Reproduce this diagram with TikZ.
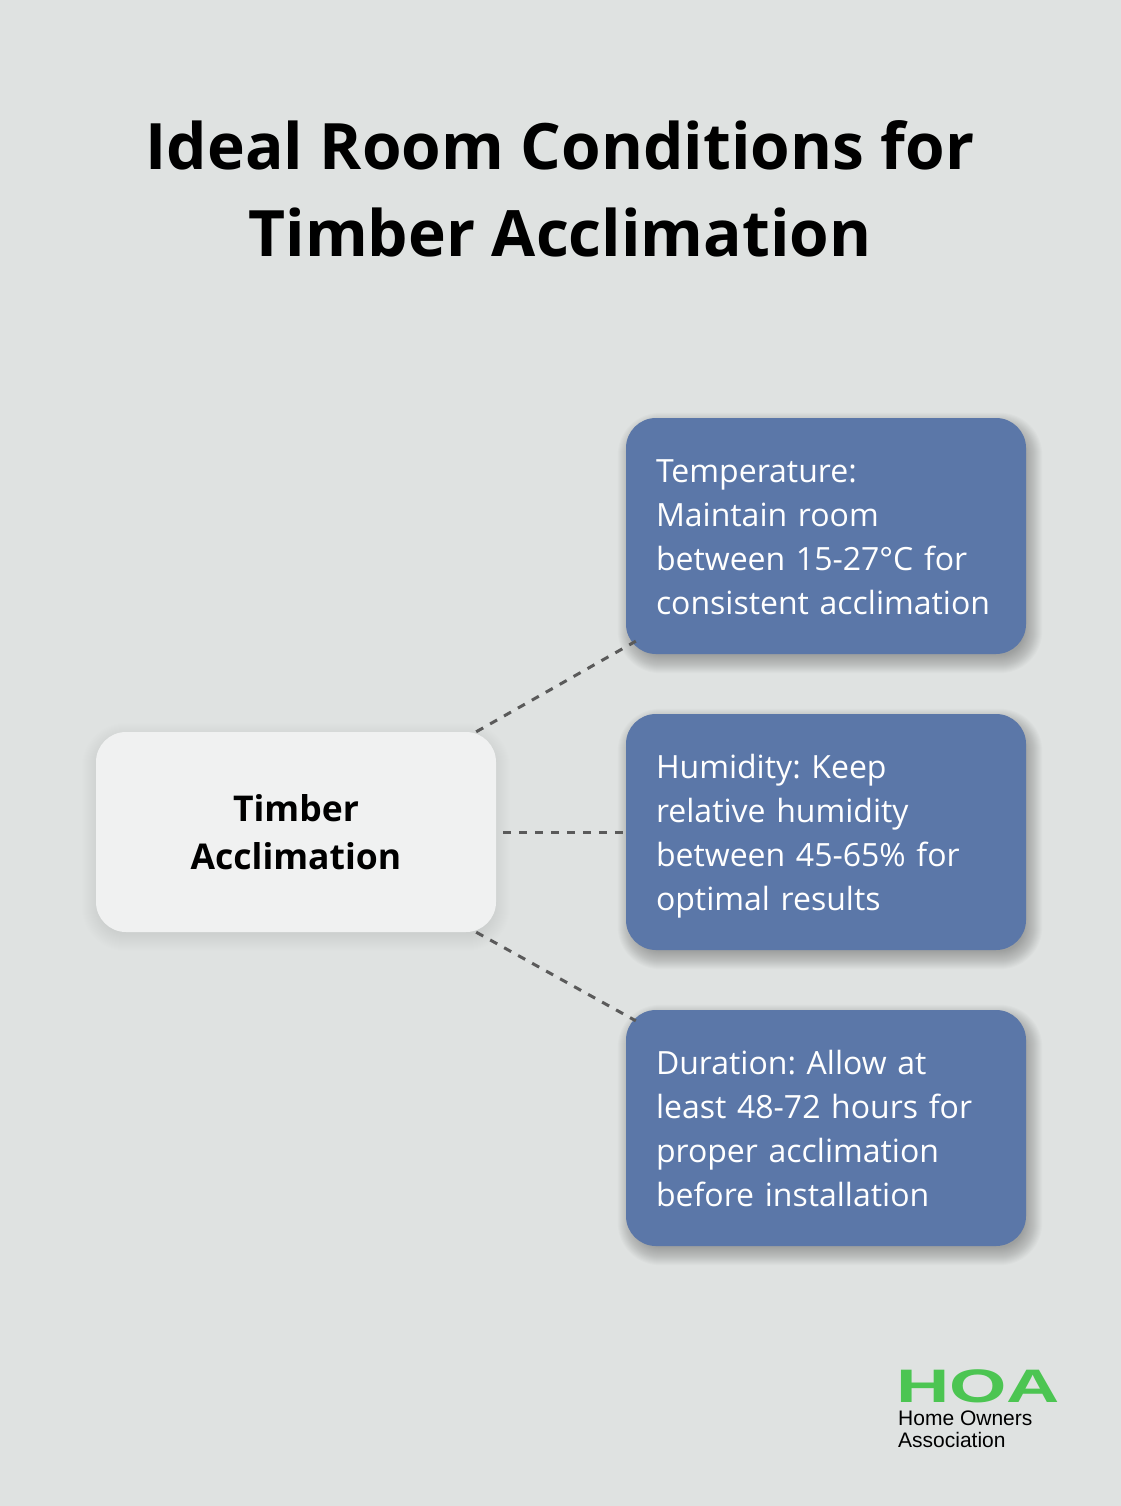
\documentclass[tikz,border=0pt]{standalone}
\usepackage{fontspec}
\setmainfont{Open Sans}
\newfontfamily\logofont{Liberation Sans}
\usetikzlibrary{calc,backgrounds}
\definecolor{bgc}{HTML}{DFE2E1}
\definecolor{bluebox}{HTML}{5B77A8}
\definecolor{lightbox}{HTML}{F0F1F1}
\definecolor{dashc}{HTML}{5A5A5A}
\definecolor{hoagreen}{HTML}{4CC552}
\newcommand{\topstr}{\rule{0pt}{33pt}}
\newcommand{\botstr}{\rule[-8pt]{0pt}{8pt}}
% soft shadow: #1 node, #2 dx, #3 dy (down positive), #4 from k, #5 to k, #6 opacity per layer
\newcommand{\softshadow}[6]{%
  \foreach \k in {#4,...,#5}{%
    \fill[black, opacity=#6, rounded corners={30pt+\k pt}]
      ($(#1.south west)+(#2-\k,#3+\k)$) rectangle ($(#1.north east)+(#2+\k,#3-\k)$);
  }%
}
\tikzset{
  infobox/.style={rectangle, rounded corners=30pt, fill=bluebox, text=white,
    minimum width=400pt, minimum height=236pt, text width=340pt, inner xsep=30pt,
    align=left, font=\fontsize{32}{44}\selectfont},
  centerbox/.style={rectangle, rounded corners=30pt, fill=lightbox, text=black,
    minimum width=400pt, minimum height=200pt, align=center,
    font=\fontsize{35.5}{48}\selectfont\bfseries},
  connector/.style={draw=dashc, line width=3pt, dash pattern=on 8pt off 8pt},
  titletext/.style={anchor=base, font=\fontsize{64}{87}\selectfont\bfseries, text=black, inner sep=0pt}
}
\frenchspacing
\begin{document}
\begin{tikzpicture}[x=1pt,y=-1pt]
\useasboundingbox (0,0) rectangle (1120,1506);

\node[titletext] (title1) at (560,170) {Ideal Room Conditions for};
\node[titletext] (title2) at (560,257) {Timber Acclimation};

\node[centerbox] (center) at (296,832) {Timber\\Acclimation};
\node[infobox] (temp) at (826,536) {\topstr Temperature:\\Maintain room\\between 15-27°C for\\consistent acclimation\botstr};
\node[infobox] (hum) at (826,832) {\topstr Humidity: Keep\\relative humidity\\between 45-65\% for\\optimal results\botstr};
\node[infobox] (dur) at (826,1128) {\topstr Duration: Allow at\\least 48-72 hours for\\proper acclimation\\before installation\botstr};

\draw[connector] ($(center.north east)+(-20,0)$) -- ($(temp.south west)+(10,-13)$);
\draw[connector] ($(center.east)+(7,0)$) -- (hum.west);
\draw[connector] ($(center.south east)+(-20,0)$) -- ($(dur.north west)+(10,11)$);

\begin{pgfonlayer}{background}
  \fill[bgc] (-4,-4) rectangle (1124,1510);
  \softshadow{center}{0}{0}{0}{48}{0.0012}
  \softshadow{center}{0}{5}{-3}{14}{0.005}
  \softshadow{temp}{4}{7}{-6}{12}{0.016}
  \softshadow{hum}{4}{7}{-6}{12}{0.016}
  \softshadow{dur}{4}{7}{-6}{12}{0.016}
\end{pgfonlayer}

% logo
\node[anchor=base west, inner sep=0pt, text=hoagreen, font=\logofont\fontsize{47}{47}\selectfont\bfseries] (hoa) at (896,1402) {\raisebox{0pt}[\height][0pt]{\scalebox{1.57}[1]{HOA}}};
\node[anchor=base west, inner sep=0pt, font=\logofont\fontsize{21}{22}\selectfont] (hoa2) at (898,1425) {Home Owners};
\node[anchor=base west, inner sep=0pt, font=\logofont\fontsize{21}{22}\selectfont] (hoa3) at (898,1447) {Association};
\end{tikzpicture}
\end{document}
